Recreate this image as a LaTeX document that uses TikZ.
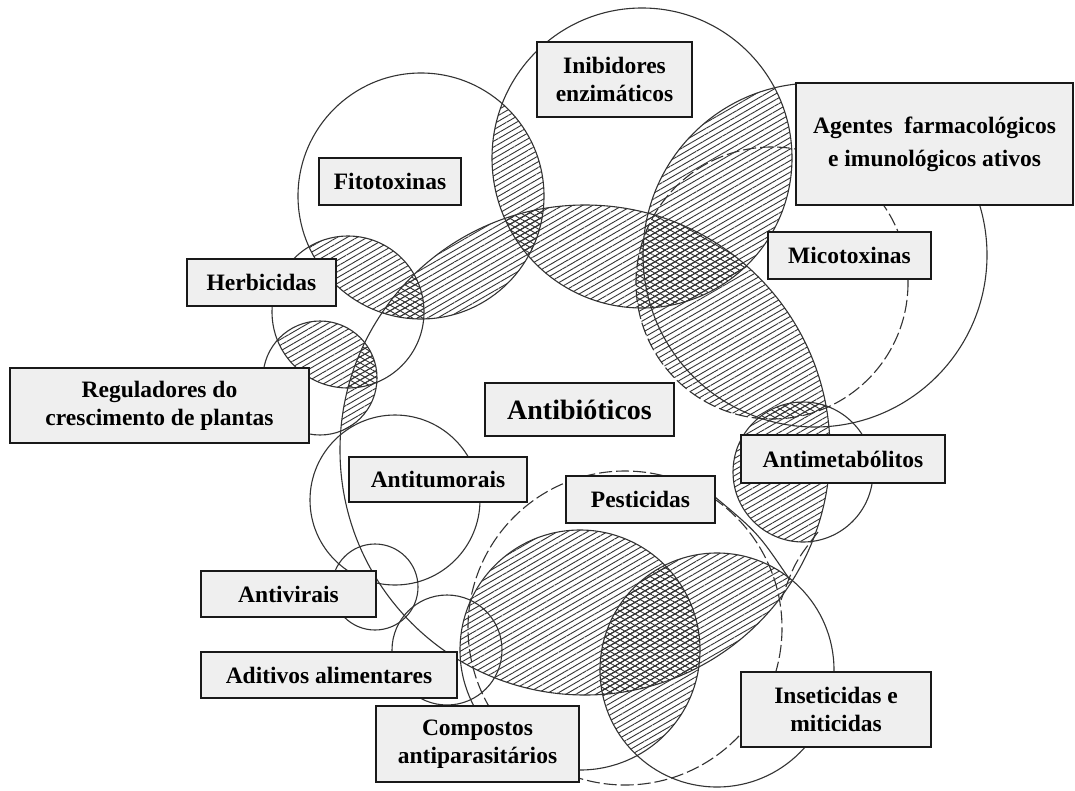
\documentclass[tikz,border=0pt]{standalone}
\usepackage{fontspec}
\setmainfont{Liberation Serif}
\usetikzlibrary{patterns.meta}
\definecolor{boxgray}{HTML}{EFEFEF}
\definecolor{ink}{HTML}{333333}
\newcommand\pairhatch[4]{\begin{scope}\clip (#1) circle[radius=#2];\fill[hatch] (#3) circle[radius=#4];\end{scope}}
\newcommand\triplehatch[6]{\begin{scope}\clip (#1) circle[radius=#2];\clip (#3) circle[radius=#4];\fill[xhatch] (#5) circle[radius=#6];\end{scope}}
\begin{document}
\begin{tikzpicture}[x=1pt,y=-1pt,
  circ/.style={draw=ink, line width=1.1pt},
  dcirc/.style={draw=ink, line width=1.1pt, dash pattern=on 13pt off 4pt},
  hatch/.style={pattern={Lines[angle=30,distance=5pt,line width=0.9pt]}, pattern color=black!80},
  xhatch/.style={pattern={Lines[angle=-30,distance=5pt,line width=0.9pt]}, pattern color=black!80},
  box/.style={draw=black!90, line width=1.3pt, fill=boxgray, inner sep=0pt, align=center,
    font=\fontsize{23.5}{28}\selectfont\bfseries, text=black},
]
\fill[white] (0,0) rectangle (1075,790);
\useasboundingbox (0,0) rectangle (1075,790);

% circle centres
\coordinate (cF) at (421,196);
\coordinate (cI) at (642,158);
\coordinate (cA) at (815,255);
\coordinate (cM) at (772,283);
\coordinate (cH) at (348,312);
\coordinate (cR) at (320,378);
\coordinate (cB) at (585,450);
\coordinate (cTu) at (395,500);
\coordinate (cV) at (375,587);
\coordinate (cAd) at (447,650);
\coordinate (cT) at (803,472);
\coordinate (cIn) at (717,670);
\coordinate (cX) at (580,650);
\coordinate (cP) at (625,628);

% single hatching (overlaps of two sets)
\pairhatch{cF}{123}{cI}{150}
\pairhatch{cB}{245}{cF}{123}
\pairhatch{cB}{245}{cI}{150}
\pairhatch{cH}{76}{cF}{123}
\pairhatch{cR}{57}{cH}{76}
\pairhatch{cR}{57}{cB}{245}
\pairhatch{cA}{172}{cI}{150}
\pairhatch{cM}{136}{cB}{245}
\pairhatch{cT}{70}{cB}{245}
\pairhatch{cX}{120}{cB}{245}
\pairhatch{cIn}{117}{cB}{245}
\pairhatch{cX}{120}{cIn}{117}

% cross hatching (overlaps of three sets)
\triplehatch{cF}{123}{cI}{150}{cB}{245}
\triplehatch{cH}{76}{cF}{123}{cB}{245}
\triplehatch{cR}{57}{cH}{76}{cB}{245}
\triplehatch{cI}{150}{cB}{245}{cM}{136}
\triplehatch{cT}{70}{cM}{136}{cB}{245}
\triplehatch{cX}{120}{cB}{245}{cIn}{117}

% outlines
\draw[circ] (cF) circle[radius=123];
\draw[circ] (cI) circle[radius=150];
\draw[circ] (cA) circle[radius=172];
\draw[dcirc] (cM) circle[radius=136];
\draw[circ] (cH) circle[radius=76];
\draw[circ] (cR) circle[radius=57];
\draw[circ] (cB) circle[radius=245];
\draw[circ] (cTu) circle[radius=85];
\draw[circ] (cV) circle[radius=43];
\draw[circ] (cAd) circle[radius=55];
\draw[circ] (cT) circle[radius=70];
\draw[circ] (cIn) circle[radius=117];
\draw[circ] (cX) circle[radius=120];
\draw[dcirc] (cP) circle[radius=157];
\draw[circ] (715,497) .. controls (758,533) .. (790,580);
\draw[dcirc] (818,532) .. controls (795,562) .. (781,600);

% labels
\node[box, minimum width=155pt, minimum height=75pt] (inib) at (614.5,79.5) {Inibidores\\enzimáticos};
\node[box, minimum width=142pt, minimum height=47pt] (fito) at (390,181.5) {Fitotoxinas};
\node[box, minimum width=277pt, minimum height=122pt] (agentes) at (934.5,144) {Agentes~ farmacológicos\\[5pt]e imunológicos ativos};
\node[box, minimum width=163pt, minimum height=47pt] (mico) at (849.5,255.5) {Micotoxinas};
\node[box, minimum width=149pt, minimum height=47pt] (herb) at (261.5,282.5) {Herbicidas};
\node[box, minimum width=299pt, minimum height=75pt] (reg) at (159.5,405.5) {Reguladores do\\crescimento de plantas};
\node[box, minimum width=189pt, minimum height=53pt, font=\fontsize{28}{32}\selectfont\bfseries] (antib) at (579.5,409.5) {Antibióticos};
\node[box, minimum width=178pt, minimum height=45pt] (tumor) at (438,479.5) {Antitumorais};
\node[box, minimum width=204pt, minimum height=48pt] (antimet) at (843,459) {Antimetabólitos};
\node[box, minimum width=149pt, minimum height=47pt] (pest) at (640.5,499.5) {Pesticidas};
\node[box, minimum width=175pt, minimum height=46pt] (viral) at (288.5,594) {Antivirais};
\node[box, minimum width=256pt, minimum height=46pt] (aditivos) at (329,675) {Aditivos alimentares};
\node[box, minimum width=203pt, minimum height=76pt] (compostos) at (477.5,744) {Compostos\\antiparasitários};
\node[box, minimum width=190pt, minimum height=75pt] (inset) at (836,709.5) {Inseticidas e\\miticidas};
\end{tikzpicture}
\end{document}
